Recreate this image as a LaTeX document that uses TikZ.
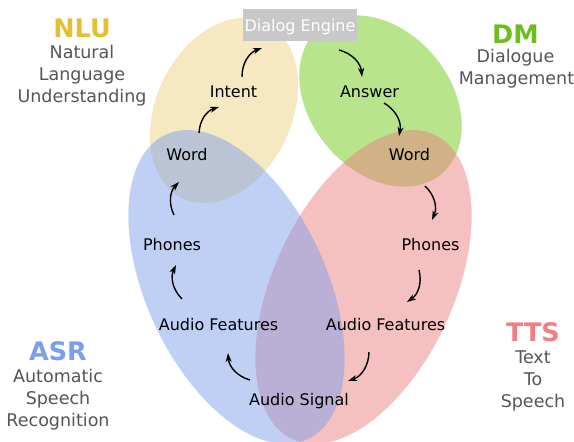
\documentclass[tikz,border=0pt]{standalone}
\usepackage{fontspec}
\setmainfont{DejaVu Sans}
\usetikzlibrary{arrows.meta}
\definecolor{yfill}{RGB}{237,209,129}
\definecolor{gfill}{RGB}{113,203,25}
\definecolor{pfill}{RGB}{235,129,129}
\definecolor{bfill}{RGB}{129,161,235}
\definecolor{nluc}{RGB}{230,190,50}
\definecolor{dmc}{RGB}{106,190,30}
\definecolor{asrc}{RGB}{122,160,235}
\definecolor{ttsc}{RGB}{240,128,128}
\definecolor{sidegray}{RGB}{85,85,85}
\definecolor{boxgray}{RGB}{200,200,200}
\begin{document}
\begin{tikzpicture}[x=1pt,y=1pt,
  lbl/.style={font=\fontsize{16}{19}\selectfont, anchor=base, inner sep=0pt},
  side/.style={font=\fontsize{17.5}{21}\selectfont, text=sidegray, anchor=base, inner sep=0pt},
  ttl/.style={font=\bfseries\fontsize{25.5}{30}\selectfont, anchor=base, inner sep=0pt},
  arr/.style={-{Stealth[length=9pt,width=6pt,inset=2.5pt]}, line width=1.4pt, bend left=35},
  blob/.style={fill opacity=0.5}]
\useasboundingbox (0,0) rectangle (574,-442);
\clip (0,0) rectangle (574,-442);
% ellipses
\begin{scope}[shift={(224,-110.5)},rotate=65]
  \fill[yfill,blob] (0,0) ellipse[x radius=97pt,y radius=68pt];
\end{scope}
\begin{scope}[shift={(380.5,-101)},rotate=-50]
  \fill[gfill,blob] (0,0) ellipse[x radius=95pt,y radius=70pt];
\end{scope}
\begin{scope}[shift={(363.5,-287)},rotate=65]
  \fill[pfill,blob] (0,0) ellipse[x radius=168pt,y radius=90pt];
\end{scope}
\begin{scope}[shift={(236.5,-287)},rotate=-65]
  \fill[bfill,blob] (0,0) ellipse[x radius=168pt,y radius=90pt];
\end{scope}
% dialog engine box
\node[fill=boxgray, text=white, font=\fontsize{16}{19}\selectfont, inner sep=0pt,
      minimum width=114pt, minimum height=32pt, text height=14pt, text depth=2pt]
      (de) at (300,-25) {Dialog Engine};
% flow labels
\node[lbl] (intent) at (233.5,-97) {Intent};
\node[lbl] (wordL) at (187,-160) {Word};
\node[lbl] (phonesL) at (172,-250) {Phones};
\node[lbl] (afL) at (218.5,-330) {Audio Features};
\node[lbl] (signal) at (299,-405) {Audio Signal};
\node[lbl] (afR) at (385.5,-330) {Audio Features};
\node[lbl] (phonesR) at (430.5,-250) {Phones};
\node[lbl] (wordR) at (409.5,-160) {Word};
\node[lbl] (answer) at (369.5,-97) {Answer};
% side titles
\node[ttl, text=nluc] (nlu) at (82,-37) {NLU};
\node[side] (nlu1) at (82,-58) {Natural};
\node[side] (nlu2) at (82,-80) {Language};
\node[side] (nlu3) at (82,-102) {Understanding};
\node[ttl, text=dmc] (dm) at (515.5,-43) {DM};
\node[side] (dm1) at (515.5,-62) {Dialogue};
\node[side] (dm2) at (516.5,-84) {Management};
\node[ttl, text=asrc] (asr) at (58,-360) {ASR};
\node[side] (asr1) at (58,-382) {Automatic};
\node[side] (asr2) at (58,-404) {Speech};
\node[side] (asr3) at (58,-426) {Recognition};
\node[ttl, text=ttsc] (tts) at (533,-341) {TTS};
\node[side] (tts1) at (533,-363) {Text};
\node[side] (tts2) at (533,-385) {To};
\node[side] (tts3) at (533,-407) {Speech};
% arrow end points
\coordinate (a1s) at (199,-133); \coordinate (a1e) at (219,-107);
\coordinate (a2s) at (242,-77);  \coordinate (a2e) at (262,-48);
\coordinate (a3s) at (339,-50);  \coordinate (a3e) at (362,-77);
\coordinate (a4s) at (384,-103); \coordinate (a4e) at (399,-136);
\coordinate (a5s) at (425,-186); \coordinate (a5e) at (432,-220);
\coordinate (a6s) at (419,-270); \coordinate (a6e) at (407,-302);
\coordinate (a7s) at (369,-352); \coordinate (a7e) at (348,-381);
\coordinate (a8s) at (250,-380); \coordinate (a8e) at (228,-353);
\coordinate (a9s) at (182,-299); \coordinate (a9e) at (176,-265);
\coordinate (a10s) at (174,-215); \coordinate (a10e) at (179,-182);
\foreach \i in {1,...,10} { \draw[arr] (a\i s) to (a\i e); }
\end{tikzpicture}
\end{document}
